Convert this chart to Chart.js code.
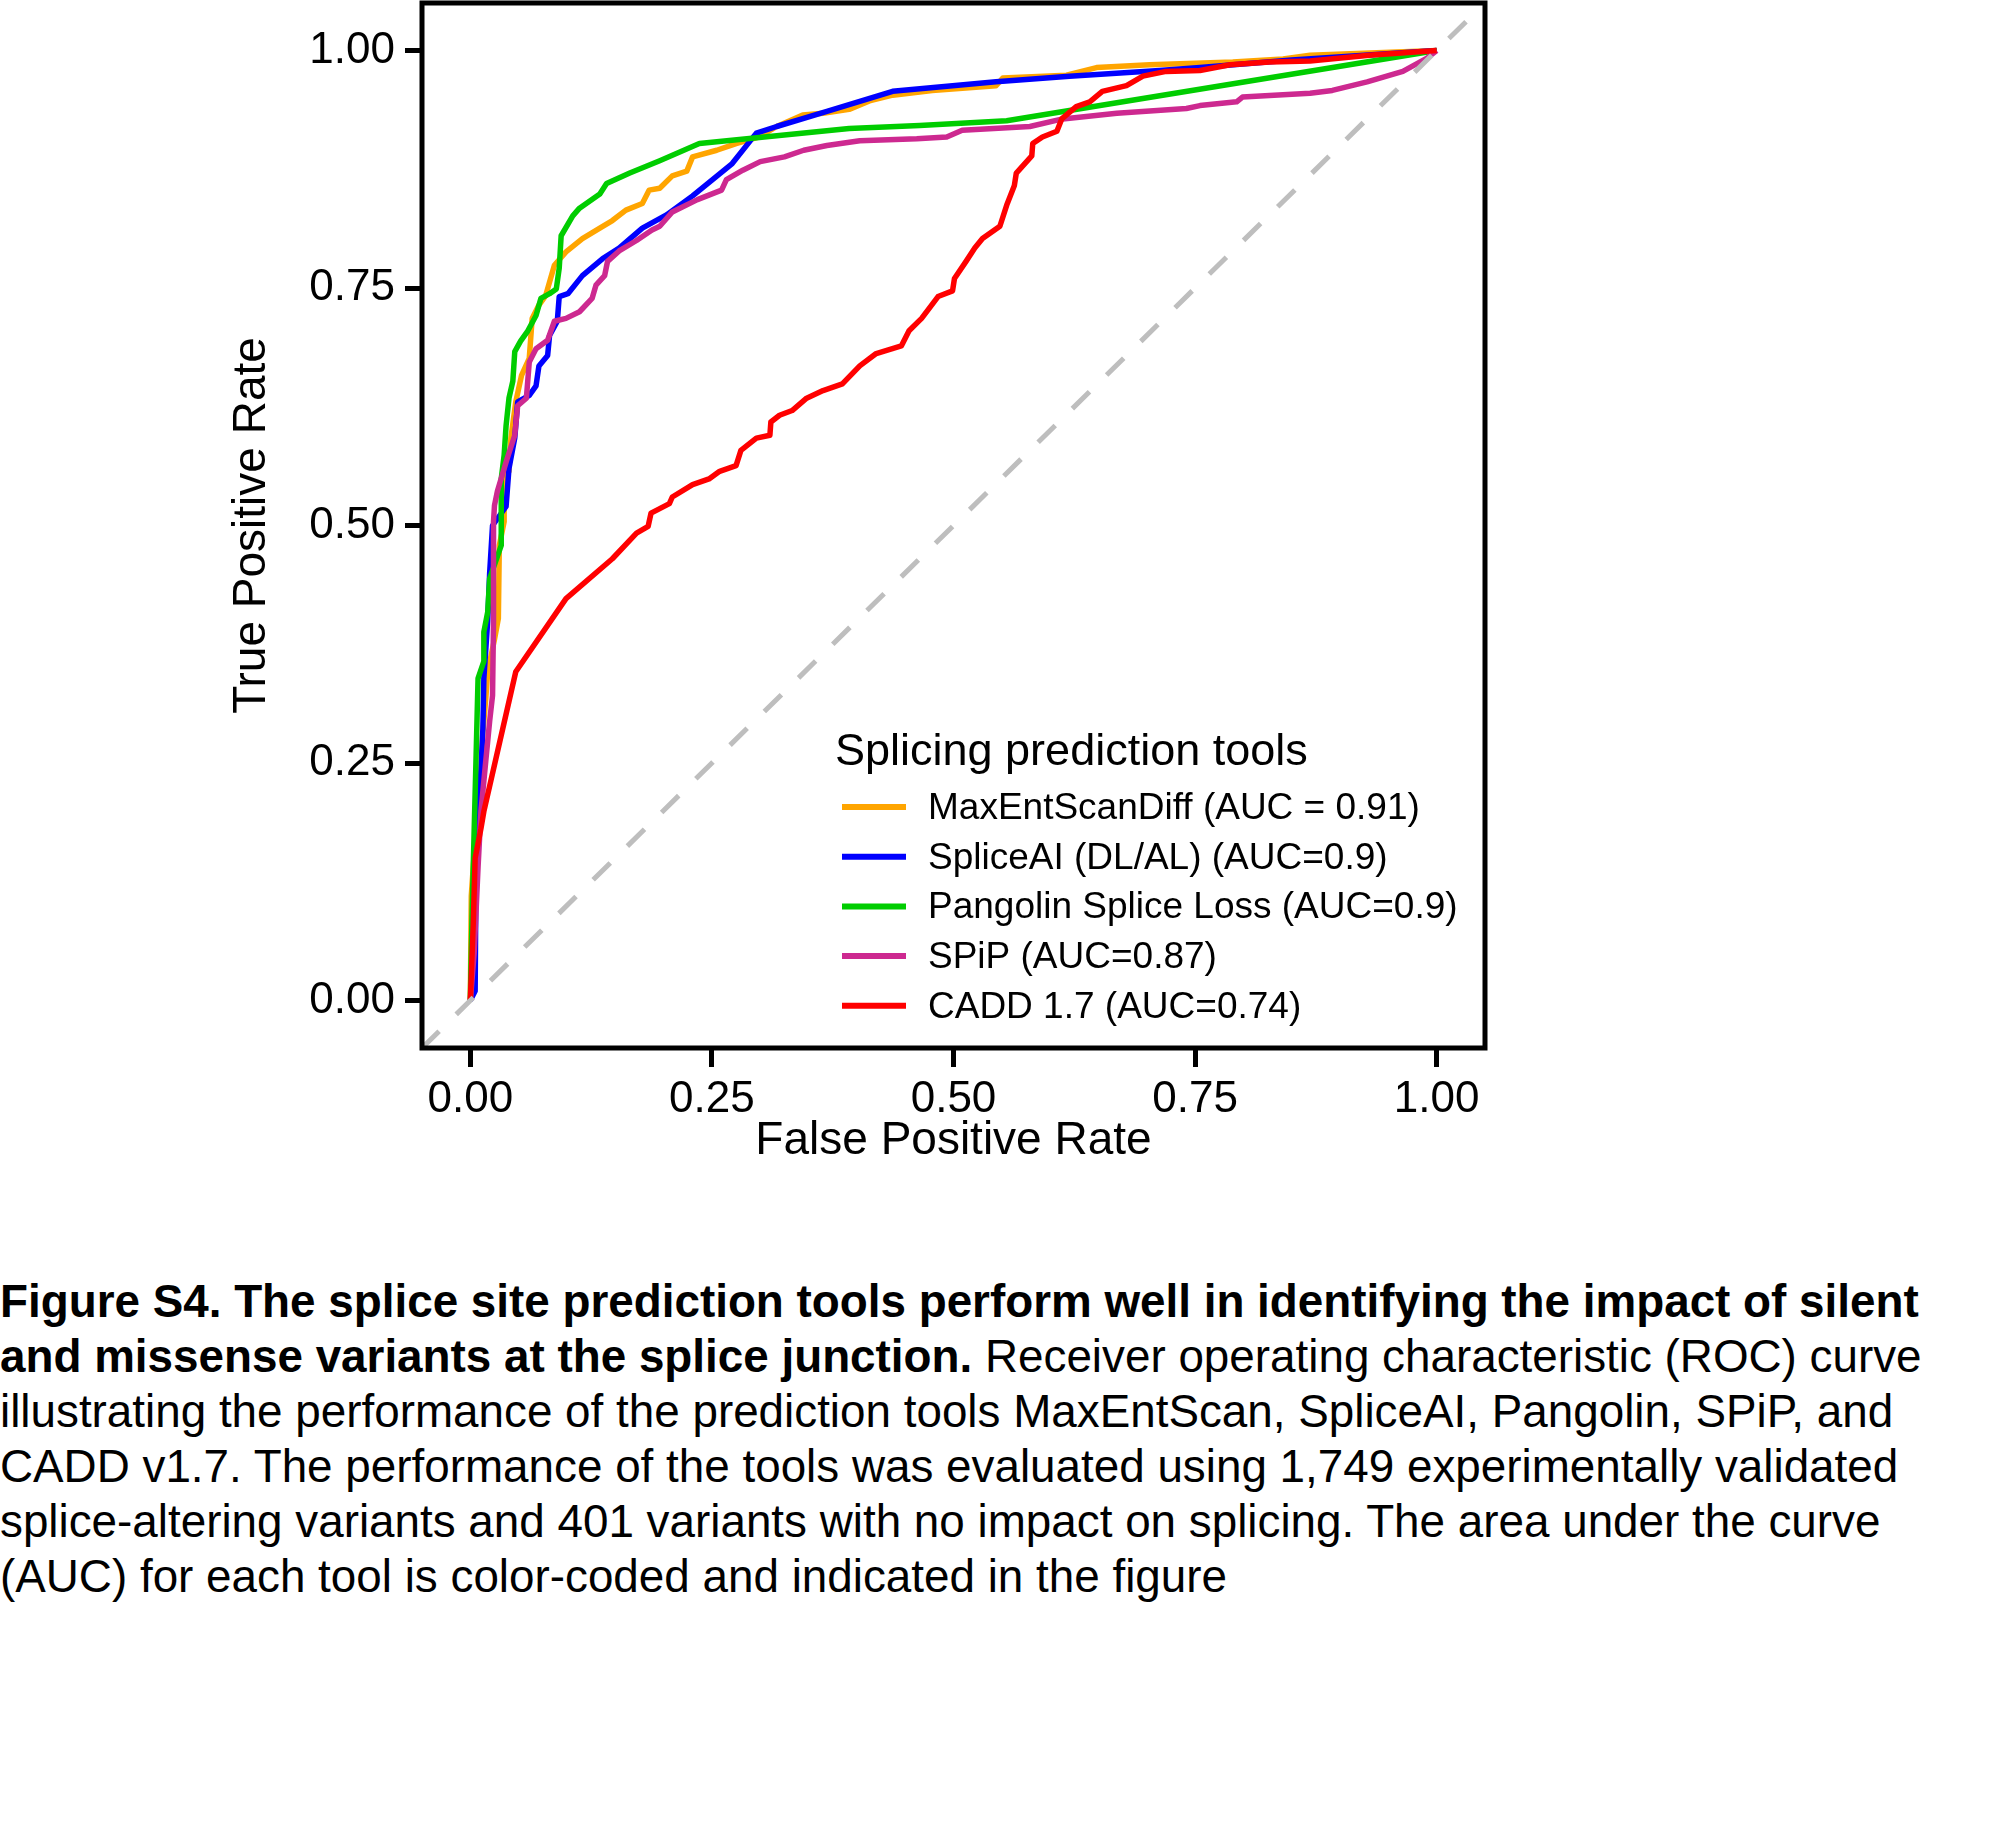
<!DOCTYPE html>
<html>
<head>
<meta charset="utf-8">
<title>ROC curves of splicing prediction tools</title>
<script src="https://cdn.jsdelivr.net/npm/chart.js@4.4.1/dist/chart.umd.min.js"></script>
<style>
  html, body { margin: 0; padding: 0; background: #fff; }
  #wrap { position: absolute; left: 0; top: 0; width: 1999px; height: 1200px; }
  #caption {
    position: absolute; left: 0; top: 1274px;
    font-family: 'Liberation Sans', Arial, Helvetica, sans-serif;
    font-size: 45.8px; line-height: 55px; color: #000; white-space: nowrap;
  }
</style>
</head>
<body>
<div id="wrap"><canvas id="rocChart"></canvas></div>
<div id="caption"><b>Figure S4. The splice site prediction tools perform well in identifying the impact of silent<br>and missense variants at the splice junction.</b> Receiver operating characteristic (ROC) curve<br>illustrating the performance of the prediction tools MaxEntScan, SpliceAI, Pangolin, SPiP, and<br>CADD v1.7. The performance of the tools was evaluated using 1,749 experimentally validated<br>splice-altering variants and 401 variants with no impact on splicing. The area under the curve<br>(AUC) for each tool is color-coded and indicated in the figure</div>
<script>
// values (false positive rate / true positive rate)
const maxEntFpr = [0, 0.001, 0.005, 0.011, 0.013, 0.016, 0.018, 0.025, 0.029, 0.030, 0.035, 0.035, 0.040, 0.042, 0.047, 0.053, 0.061, 0.064, 0.071, 0.078, 0.087, 0.099, 0.116, 0.134, 0.147, 0.161, 0.178, 0.185, 0.196, 0.209, 0.224, 0.230, 0.255, 0.275, 0.299, 0.317, 0.344, 0.365, 0.392, 0.413, 0.437, 0.478, 0.544, 0.551, 0.617, 0.648, 0.703, 0.789, 0.841, 0.869, 1];
const maxEntTpr = [0, 0.11, 0.17, 0.241, 0.283, 0.318, 0.346, 0.38, 0.402, 0.479, 0.504, 0.549, 0.557, 0.592, 0.630, 0.658, 0.676, 0.718, 0.732, 0.742, 0.774, 0.788, 0.802, 0.813, 0.821, 0.832, 0.839, 0.853, 0.855, 0.868, 0.873, 0.888, 0.895, 0.902, 0.909, 0.920, 0.932, 0.934, 0.938, 0.947, 0.953, 0.958, 0.963, 0.971, 0.974, 0.982, 0.985, 0.988, 0.991, 0.995, 1];

const spliceAiFpr = [0, 0.005, 0.006, 0.010, 0.013, 0.014, 0.018, 0.020, 0.023, 0.037, 0.040, 0.046, 0.049, 0.061, 0.068, 0.071, 0.080, 0.082, 0.090, 0.092, 0.101, 0.116, 0.137, 0.154, 0.178, 0.203, 0.230, 0.271, 0.296, 0.317, 0.369, 0.437, 0.544, 0.620, 0.713, 0.755, 0.850, 1];
const spliceAiTpr = [0, 0.01, 0.15, 0.22, 0.286, 0.339, 0.40, 0.45, 0.500, 0.520, 0.560, 0.592, 0.630, 0.637, 0.647, 0.668, 0.679, 0.700, 0.715, 0.741, 0.744, 0.763, 0.781, 0.792, 0.813, 0.827, 0.847, 0.881, 0.913, 0.920, 0.936, 0.957, 0.967, 0.973, 0.979, 0.982, 0.990, 1];

const pangolinFpr = [0, 0.002, 0.004, 0.006, 0.008, 0.014, 0.014, 0.018, 0.020, 0.032, 0.032, 0.035, 0.037, 0.040, 0.044, 0.046, 0.052, 0.059, 0.068, 0.073, 0.082, 0.089, 0.092, 0.094, 0.106, 0.113, 0.134, 0.141, 0.165, 0.196, 0.237, 0.392, 0.465, 0.555, 1];
const pangolinTpr = [0, 0.10, 0.18, 0.258, 0.339, 0.357, 0.388, 0.409, 0.444, 0.479, 0.549, 0.574, 0.605, 0.634, 0.652, 0.683, 0.694, 0.704, 0.721, 0.739, 0.744, 0.749, 0.771, 0.805, 0.826, 0.834, 0.849, 0.860, 0.871, 0.884, 0.902, 0.918, 0.921, 0.926, 1];

const spipFpr = [0, 0.004, 0.008, 0.011, 0.016, 0.020, 0.023, 0.024, 0.024, 0.025, 0.028, 0.038, 0.046, 0.049, 0.058, 0.061, 0.068, 0.080, 0.087, 0.099, 0.113, 0.126, 0.130, 0.139, 0.142, 0.154, 0.172, 0.188, 0.196, 0.209, 0.235, 0.260, 0.265, 0.282, 0.300, 0.325, 0.345, 0.369, 0.403, 0.462, 0.493, 0.509, 0.579, 0.613, 0.669, 0.741, 0.755, 0.793, 0.799, 0.869, 0.892, 0.928, 0.965, 0.990, 1];
const spipTpr = [0, 0.05, 0.14, 0.199, 0.252, 0.294, 0.321, 0.40, 0.504, 0.521, 0.536, 0.570, 0.595, 0.626, 0.634, 0.672, 0.686, 0.695, 0.715, 0.718, 0.725, 0.739, 0.753, 0.763, 0.778, 0.789, 0.800, 0.811, 0.815, 0.830, 0.843, 0.853, 0.864, 0.874, 0.883, 0.888, 0.895, 0.900, 0.905, 0.907, 0.909, 0.916, 0.920, 0.928, 0.934, 0.939, 0.942, 0.946, 0.951, 0.955, 0.958, 0.967, 0.978, 0.992, 1];

const caddFpr = [0, 0.003, 0.005, 0.011, 0.014, 0.047, 0.099, 0.147, 0.172, 0.184, 0.187, 0.206, 0.209, 0.230, 0.247, 0.258, 0.275, 0.280, 0.296, 0.310, 0.311, 0.320, 0.333, 0.348, 0.365, 0.385, 0.403, 0.420, 0.446, 0.454, 0.467, 0.484, 0.499, 0.501, 0.513, 0.522, 0.530, 0.548, 0.555, 0.563, 0.565, 0.581, 0.582, 0.592, 0.607, 0.612, 0.627, 0.641, 0.654, 0.679, 0.696, 0.720, 0.755, 0.786, 0.827, 0.869, 0.930, 1];
const caddTpr = [0, 0.08, 0.15, 0.181, 0.199, 0.346, 0.423, 0.465, 0.492, 0.499, 0.513, 0.523, 0.530, 0.543, 0.549, 0.557, 0.563, 0.579, 0.592, 0.595, 0.609, 0.616, 0.621, 0.634, 0.642, 0.649, 0.668, 0.681, 0.689, 0.705, 0.718, 0.741, 0.747, 0.760, 0.778, 0.792, 0.802, 0.815, 0.837, 0.858, 0.871, 0.889, 0.902, 0.909, 0.915, 0.928, 0.941, 0.946, 0.957, 0.963, 0.973, 0.978, 0.979, 0.985, 0.988, 0.989, 0.995, 1];

const legendTitle = 'Splicing prediction tools';
const legendLabels = [
    'MaxEntScanDiff (AUC = 0.91)',
    'SpliceAI (DL/AL) (AUC=0.9)',
    'Pangolin Splice Loss (AUC=0.9)',
    'SPiP (AUC=0.87)',
    'CADD 1.7 (AUC=0.74)'
];
const seriesColors = ['#FFA500', '#0000FF', '#00CD00', '#CD2990', '#FF0000'];
const axisTicks = [0, 0.25, 0.5, 0.75, 1];
const diagonal = [-0.05, 1.05];

const FONT = "'Liberation Sans', Arial, Helvetica, sans-serif";
Chart.defaults.font.family = FONT;
Chart.defaults.color = '#000';

function toPoints(xs, ys) {
    return xs.map(function(x, i) { return { x: x, y: ys[i] }; });
}

const curves = [
    [maxEntFpr, maxEntTpr],
    [spliceAiFpr, spliceAiTpr],
    [pangolinFpr, pangolinTpr],
    [spipFpr, spipTpr],
    [caddFpr, caddTpr]
];

const datasets = curves.map(function(c, index) {
    return {
        label: legendLabels[index],
        data: toPoints(c[0], c[1]),
        borderColor: seriesColors[index],
        borderWidth: 5.5,
        borderJoinStyle: 'round',
        pointRadius: 0,
        tension: 0,
        fill: false,
        // later tools are drawn on top, like ggplot
        order: curves.length - index
    };
});

// chance line, drawn over the curves
datasets.push({
    label: 'chance',
    data: toPoints(diagonal, diagonal),
    borderColor: '#BEBEBE',
    borderWidth: 5,
    borderDash: [24, 24],
    pointRadius: 0,
    fill: false,
    order: 0
});

// panel border around the plot area
const panelBorder = {
    id: 'panelBorder',
    afterDatasetsDraw: function(chart) {
        const a = chart.chartArea;
        const ctx = chart.ctx;
        ctx.save();
        ctx.strokeStyle = '#000';
        ctx.lineWidth = 5;
        ctx.strokeRect(a.left, a.top, a.right - a.left, a.bottom - a.top);
        ctx.restore();
    }
};

// ggplot style legend placed inside the panel
const insideLegend = {
    id: 'insideLegend',
    afterDraw: function(chart) {
        const ctx = chart.ctx;
        ctx.save();
        ctx.fillStyle = '#000';
        ctx.textAlign = 'left';
        ctx.textBaseline = 'alphabetic';
        ctx.font = '45px ' + FONT;
        ctx.fillText(legendTitle, 835, 765);
        ctx.font = '37px ' + FONT;
        legendLabels.forEach(function(label, i) {
            const cy = 807 + i * 49.7;
            ctx.strokeStyle = seriesColors[i];
            ctx.lineWidth = 6;
            ctx.beginPath();
            ctx.moveTo(842, cy);
            ctx.lineTo(906, cy);
            ctx.stroke();
            ctx.fillText(label, 928, cy + 12);
        });
        ctx.restore();
    }
};

function fixedTicks(scale) {
    scale.ticks = axisTicks.map(function(v) { return { value: v }; });
}

const ctx = document.getElementById('rocChart');

new Chart(ctx, {
    type: 'line',
    data: { datasets: datasets },
    options: {
        responsive: true,
        maintainAspectRatio: false,
        animation: false,
        events: [],
        layout: {
            padding: { top: 3, right: 514, bottom: 0, left: 0 }
        },
        scales: {
            x: {
                type: 'linear',
                min: -0.05,
                max: 1.05,
                afterBuildTicks: fixedTicks,
                afterFit: function(scale) {
                    scale.height = 152;
                    scale.paddingLeft = 0;
                    scale.paddingRight = 0;
                },
                border: { display: false },
                grid: {
                    drawOnChartArea: false,
                    drawTicks: true,
                    tickLength: 19,
                    tickWidth: 5,
                    tickColor: '#000'
                },
                ticks: {
                    autoSkip: false,
                    maxRotation: 0,
                    padding: 6,
                    color: '#000',
                    font: { size: 44 },
                    callback: function(value) { return Number(value).toFixed(2); }
                },
                title: {
                    display: true,
                    text: 'False Positive Rate',
                    color: '#000',
                    font: { size: 46 },
                    padding: { top: 0, bottom: 31 }
                }
            },
            y: {
                type: 'linear',
                min: -0.05,
                max: 1.05,
                afterBuildTicks: fixedTicks,
                afterFit: function(scale) {
                    scale.width = 422;
                    scale.paddingTop = 0;
                    scale.paddingBottom = 0;
                },
                border: { display: false },
                grid: {
                    drawOnChartArea: false,
                    drawTicks: true,
                    tickLength: 17,
                    tickWidth: 5,
                    tickColor: '#000'
                },
                ticks: {
                    autoSkip: false,
                    padding: 10,
                    color: '#000',
                    font: { size: 44 },
                    callback: function(value) { return Number(value).toFixed(2); }
                },
                title: {
                    display: true,
                    text: 'True Positive Rate',
                    color: '#000',
                    font: { size: 46 },
                    padding: { top: 225, bottom: 0 }
                }
            }
        },
        plugins: {
            legend: { display: false },
            tooltip: { enabled: false }
        }
    },
    plugins: [panelBorder, insideLegend]
});
</script>
</body>
</html>
